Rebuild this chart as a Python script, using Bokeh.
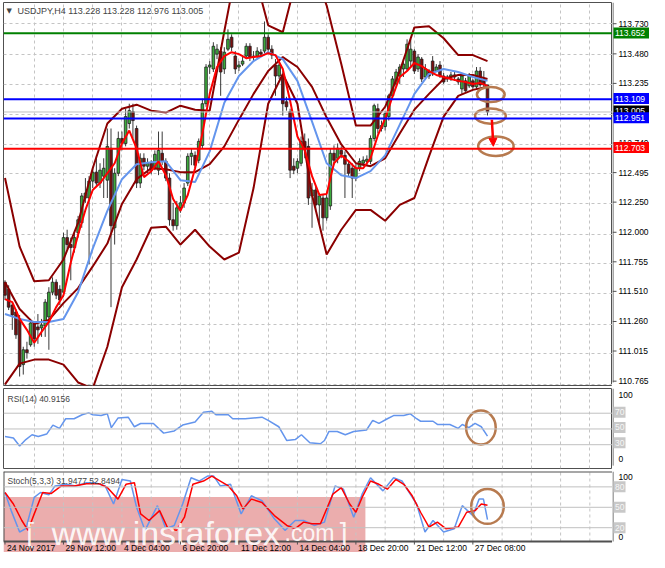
from bokeh.plotting import figure
from bokeh.models import (Range1d, Span, Label, FixedTicker, Arrow, NormalHead,
                          BoxAnnotation, ColumnDataSource)
from bokeh.layouts import column, row
from bokeh.embed import file_html
from bokeh.resources import INLINE
from bokeh.core.properties import value

# ---------------- data (USDJPY H4) ----------------
opens = [111.604, 111.546, 111.416, 111.359, 111.302, 110.926, 111.048, 111.089, 111.261, 111.236,
         111.228, 111.244, 111.318, 111.522, 111.604, 111.546, 111.522, 111.971, 111.914, 111.889,
         112.012, 112.093, 112.297, 112.297, 112.436, 112.510, 112.420, 112.477, 112.444, 112.706,
         112.052, 112.501, 112.787, 112.746, 112.910, 113.008, 112.869, 112.420, 112.624, 112.559,
         112.583, 112.542, 112.526, 112.665, 112.599, 112.461, 112.118, 112.069, 112.216, 112.257,
         112.420, 112.640, 112.648, 112.608, 112.730, 113.073, 113.375, 113.359, 113.481, 113.506,
         113.359, 113.522, 113.620, 113.465, 113.375, 113.399, 113.465, 113.546, 113.457, 113.465,
         113.497, 113.506, 113.620, 113.522, 113.391, 113.301, 113.301, 113.089, 113.008, 112.559,
         112.542, 112.583, 112.763, 112.722, 112.314, 112.363, 112.240, 112.297, 112.134, 112.232,
         112.665, 112.624, 112.689, 112.648, 112.575, 112.542, 112.461, 112.542, 112.583, 112.599,
         112.599, 112.787, 113.032, 112.869, 112.885, 112.967, 113.138, 113.236, 113.301, 113.359,
         113.359, 113.424, 113.506, 113.359, 113.440, 113.293, 113.342, 113.424, 113.342, 113.391,
         113.301, 113.277, 113.293, 113.310, 113.277, 113.195, 113.261, 113.220, 113.261, 113.212,
         113.342, 113.277, 113.228]
highs = [111.620, 111.579, 111.440, 111.383, 111.334, 111.073, 111.114, 111.302, 111.285, 111.342,
         111.302, 111.465, 111.563, 111.644, 111.628, 111.579, 112.012, 112.036, 111.971, 112.012,
         112.150, 112.338, 112.461, 112.477, 112.542, 112.648, 112.583, 112.624, 112.869, 112.869,
         112.542, 112.844, 112.844, 113.032, 113.073, 113.073, 112.893, 112.665, 112.665, 112.624,
         112.608, 112.689, 112.844, 112.844, 112.624, 112.501, 112.257, 112.273, 112.314, 112.420,
         112.665, 112.706, 112.681, 112.787, 113.114, 113.399, 113.424, 113.579, 113.563, 113.538,
         113.538, 113.685, 113.644, 113.506, 113.424, 113.457, 113.571, 113.571, 113.506, 113.538,
         113.522, 113.750, 113.644, 113.554, 113.440, 113.424, 113.342, 113.130, 113.032, 112.624,
         112.624, 112.803, 112.828, 112.787, 112.420, 112.395, 112.338, 112.322, 112.322, 112.706,
         112.730, 112.746, 112.722, 112.681, 112.608, 112.583, 112.575, 112.624, 112.640, 112.648,
         112.812, 113.073, 113.073, 112.934, 113.016, 113.154, 113.301, 113.359, 113.399, 113.440,
         113.603, 113.603, 113.522, 113.481, 113.457, 113.399, 113.359, 113.465, 113.399, 113.424,
         113.326, 113.310, 113.334, 113.334, 113.293, 113.318, 113.285, 113.326, 113.277, 113.375,
         113.375, 113.342, 113.228]
lows = [111.457, 111.375, 111.212, 111.138, 110.828, 110.844, 110.975, 111.073, 111.073, 111.097,
        111.154, 111.154, 111.048, 111.497, 111.465, 111.416, 111.481, 111.873, 111.620, 111.848,
        111.971, 112.052, 112.257, 111.750, 112.379, 112.395, 112.379, 112.297, 112.297, 111.399,
        111.914, 112.477, 112.689, 112.722, 112.869, 112.787, 112.379, 112.379, 112.526, 112.501,
        112.493, 112.526, 112.485, 112.567, 112.436, 112.069, 112.028, 112.036, 112.175, 112.216,
        112.395, 112.567, 112.542, 112.583, 112.706, 113.048, 113.318, 113.334, 113.440, 113.138,
        113.318, 113.506, 113.506, 113.318, 113.342, 113.383, 113.440, 113.424, 113.424, 113.440,
        113.457, 113.489, 113.497, 113.440, 113.138, 113.277, 112.975, 113.016, 112.461, 112.493,
        112.501, 112.559, 112.624, 112.240, 112.052, 112.191, 112.077, 112.028, 112.110, 112.199,
        112.567, 112.583, 112.624, 112.297, 112.477, 112.297, 112.436, 112.518, 112.559, 112.567,
        112.575, 112.763, 112.828, 112.844, 112.852, 112.934, 113.114, 113.212, 113.236, 113.293,
        113.342, 113.383, 113.318, 113.334, 113.252, 113.277, 113.277, 113.301, 113.334, 113.285,
        113.236, 113.252, 113.261, 113.261, 113.228, 113.154, 113.171, 113.203, 113.195, 113.195,
        113.212, 113.212, 112.976]
closes = [111.497, 111.399, 111.334, 111.171, 110.910, 111.048, 111.024, 111.269, 111.138, 111.212,
          111.252, 111.440, 111.522, 111.604, 111.497, 111.457, 111.971, 111.914, 111.889, 111.971,
          112.118, 112.314, 112.338, 112.436, 112.510, 112.420, 112.526, 112.542, 112.722, 112.069,
          112.501, 112.787, 112.746, 112.967, 113.016, 112.934, 112.420, 112.624, 112.559, 112.583,
          112.526, 112.657, 112.689, 112.599, 112.461, 112.118, 112.069, 112.216, 112.257, 112.379,
          112.640, 112.665, 112.567, 112.763, 113.073, 113.375, 113.391, 113.546, 113.522, 113.334,
          113.497, 113.603, 113.538, 113.359, 113.391, 113.424, 113.546, 113.457, 113.465, 113.506,
          113.481, 113.620, 113.522, 113.473, 113.301, 113.391, 113.073, 113.048, 112.526, 112.526,
          112.599, 112.763, 112.706, 112.297, 112.363, 112.240, 112.314, 112.134, 112.297, 112.665,
          112.608, 112.706, 112.657, 112.575, 112.501, 112.461, 112.542, 112.599, 112.608, 112.616,
          112.787, 113.057, 112.869, 112.893, 112.991, 113.138, 113.277, 113.334, 113.375, 113.399,
          113.563, 113.522, 113.342, 113.457, 113.277, 113.359, 113.301, 113.318, 113.375, 113.301,
          113.252, 113.293, 113.310, 113.293, 113.252, 113.301, 113.179, 113.301, 113.212, 113.342,
          113.228, 113.228, 113.005]

# indicator lines read every 4 bars
band_idx = list(range(0, 133, 4))
bb_upper = [112.461, 111.897, 111.612, 111.620, 111.791, 112.093, 112.542, 112.910, 113.032, 113.065,
            113.016, 113.000, 113.057, 113.024, 113.016, 113.669, 114.297, 114.175, 113.718, 113.661,
            114.134, 114.216, 113.881, 113.399, 112.893, 112.893, 113.048, 113.342, 113.701, 113.710,
            113.612, 113.473, 113.473, 113.424]
bb_lower = [110.763, 110.934, 110.967, 110.967, 110.926, 110.779, 110.730, 111.073, 111.563, 111.791,
            112.052, 112.061, 111.914, 112.036, 111.897, 111.791, 111.848, 112.379, 113.073, 113.318,
            113.073, 112.322, 111.832, 112.036, 112.199, 112.199, 112.110, 112.240, 112.297, 112.640,
            112.967, 113.138, 113.187, 113.212]
bb_middle = [111.604, 111.383, 111.261, 111.293, 111.432, 111.555, 111.734, 111.922, 112.248, 112.452,
             112.542, 112.534, 112.510, 112.510, 112.575, 112.722, 112.942, 113.154, 113.342, 113.457,
             113.375, 113.212, 112.959, 112.738, 112.583, 112.559, 112.624, 112.828, 113.024, 113.154,
             113.277, 113.310, 113.310, 113.277]
ma_slow = [111.342, 111.302, 111.277, 111.277, 111.302, 111.522, 111.881, 112.191, 112.452, 112.575,
           112.591, 112.599, 112.444, 112.428, 112.681, 113.081, 113.301, 113.424, 113.497, 113.440,
           113.261, 112.926, 112.583, 112.485, 112.461, 112.518, 112.648, 112.901, 113.154, 113.318,
           113.359, 113.334, 113.293, 113.261]
# fast MA read every 2 bars
fast_idx = list(range(0, 133, 2))
ma_fast = [111.465, 111.440, 111.302, 111.212, 111.106, 111.195, 111.277, 111.399, 111.497, 111.767,
           111.995, 112.199, 112.363, 112.420, 112.501, 112.583, 112.746, 112.852, 112.706, 112.469,
           112.518, 112.599, 112.485, 112.289, 112.191, 112.322, 112.542, 112.828, 113.154, 113.375,
           113.465, 113.497, 113.481, 113.448, 113.457, 113.465, 113.489, 113.473, 113.359, 113.097,
           112.803, 112.689, 112.477, 112.322, 112.330, 112.583, 112.648, 112.599, 112.542, 112.542,
           112.624, 112.812, 112.950, 113.130, 113.293, 113.342, 113.408, 113.383, 113.342, 113.310,
           113.293, 113.277, 113.261, 113.252, 113.236, 113.244, 113.220]

rsi_idx = [0, 2.3, 4, 5.7, 7.4, 9.1, 11.4, 13.1, 14.9, 16.6, 18.9, 21.1, 22.9, 24, 26.3, 28, 29.1, 30.9,
           33.7, 35.4, 37.1, 40.6, 43.4, 46.3, 48.6, 52, 54.3, 56.6, 57.7, 61.1, 62.3, 65.7, 70.3, 72,
           74.9, 77.1, 79.4, 81.1, 83.4, 86.3, 87.4, 88.6, 90.9, 93.1, 95.4, 98.9, 100.6, 102.3, 104.6,
           106.3, 109.1, 110.9, 112.6, 113.7, 117.1, 118.3, 121.7, 124, 125.1, 126.9, 128.6, 130.3, 132]
rsi_val = [40.5, 38.6, 28.3, 36.5, 42.6, 40.5, 43.5, 54.9, 50.8, 63, 63, 68, 70.4, 68, 67, 69.2, 51.6, 63.8,
           65, 52.8, 56.9, 57, 44.7, 47.5, 54.9, 58.9, 71.1, 72.4, 68, 68, 63, 63, 65, 61,
           52.8, 35.3, 36.5, 42.6, 32.4, 31.2, 35.3, 46.7, 46.7, 42.6, 46.7, 48.7, 61, 57, 63,
           67, 67, 69.2, 63, 59.8, 59.8, 55.7, 55.7, 50.8, 55.7, 51.6, 57, 52.8, 40.9156]

stoch_main_idx = [0, 1.7, 4.0, 5.7, 8.0, 9.7, 12.0, 13.7, 16.6, 19.4, 22.3, 24.6, 27.4, 29.7, 32.0, 34.3,
                  36.0, 38.3, 41.7, 44.0, 46.3, 48.6, 50.9, 53.1, 55.4, 57.1, 58.9, 61.7, 64.6, 67.4,
                  70.3, 73.7, 76.6, 79.4, 81.7, 84.6, 87.4, 90.3, 92.6, 95.4, 97.7, 100.0, 103.4, 106.3,
                  108.6, 112.6, 114.9, 117.1, 120.0, 122.9, 125.1, 128.0, 129.7, 130.9, 132]
stoch_main = [71.7, 45.1, 13.7, 18.5, 64.5, 71.7, 68.3, 81.4, 83.8, 81.4, 86.2, 86.2, 81.4, 54.8, 91, 88.6,
              50, 16.1, 52.4, 18.5, 23.3, 54.8, 93.4, 88.6, 95.9, 95.9, 81.4, 83.8, 40.3, 66.9,
              59.6, 33, 16.1, 30.6, 30.6, 23.3, 28.2, 81.4, 76.6, 35.4, 69.3, 93.4, 74.1, 93.4,
              88.6, 54.8, 13.7, 30.6, 13.7, 18.5, 52.4, 37.8, 62, 62, 31.9477]
stoch_sig_idx = [0, 2.3, 4.6, 6.3, 8.0, 10.3, 12.6, 15.4, 18.9, 22.3, 25.7, 28.0, 30.9, 33.1, 35.4, 37.1,
                 39.4, 42.3, 44.6, 46.9, 49.1, 51.4, 54.3, 56.6, 58.9, 61.1, 63.4, 65.1, 67.4, 70.3,
                 73.7, 77.1, 79.4, 81.7, 84.0, 86.3, 89.7, 92.0, 94.3, 96.0, 97.7, 100.0, 102.3, 104.6,
                 106.9, 109.1, 111.4, 113.7, 116.0, 118.3, 120.6, 124.0, 126.3, 128.6, 130.3, 132]
stoch_sig = [71.7, 54.8, 30.6, 16.1, 40.3, 71.7, 70.2, 81.4, 81.4, 84.7, 84.7, 79, 62, 83.8, 86.2, 40.3,
             30.6, 45.1, 18.5, 16.1, 35.4, 83.8, 88.6, 95.9, 88.6, 81.4, 66.9, 47.6, 62, 57.1,
             37.8, 23.3, 18.5, 28.2, 25.8, 25.8, 69.3, 79, 54.8, 42.7, 64.5, 88.6, 83.8, 76.6,
             91, 83.8, 66.9, 42.7, 21, 28.2, 18.5, 21, 42.7, 45.1, 54.8, 52.8494]

price_ticks = [110.765, 111.015, 111.260, 111.510, 111.755, 112.000, 112.250, 112.495, 112.740,
               112.985, 113.235, 113.480, 113.730]
level_green = 113.652
level_blue = [113.109, 112.951]
level_red = 112.703
last_price = 113.005
rsi_levels = [70, 50, 30]
stoch_levels = [80, 50, 20]
date_idx = [0, 16, 32, 48, 64, 80, 96, 112, 128]
date_labels = ["24 Nov 2017", "29 Nov 12:00", "4 Dec 04:00", "6 Dec 20:00", "11 Dec 12:00",
               "14 Dec 04:00", "18 Dec 20:00", "21 Dec 12:00", "27 Dec 08:00"]
vgrid_idx = list(range(8, 168, 8))

# ---------------- layout constants ----------------
X0, X1 = -0.41, 166.2
WL = 612          # chart part (frame 3..612)
WR = 37           # price-scale strip
FONT = "Liberation Sans"
GRID_C = "#c4c4c4"
BORDER_C = "#505050"
xr = Range1d(X0, X1)


def panel(h, yr, bt=0, bb=0):
    p = figure(width=WL, height=h, x_range=xr, y_range=yr, output_backend="svg",
               toolbar_location=None, x_axis_location=None, y_axis_location=None,
               min_border_left=3, min_border_right=0, min_border_top=bt, min_border_bottom=bb)
    p.outline_line_color = BORDER_C
    p.outline_line_width = 1
    p.background_fill_color = "white"
    p.border_fill_color = "white"
    p.xgrid.ticker = FixedTicker(ticks=vgrid_idx)
    p.xgrid.grid_line_color = GRID_C
    p.xgrid.grid_line_dash = "3 3"
    return p


def strip(h, yr, line_lo, line_hi, bt=0, bb=0):
    s = figure(width=WR, height=h, x_range=Range1d(0, WR), y_range=yr, output_backend="svg",
               toolbar_location=None, x_axis_location=None, y_axis_location=None,
               min_border_left=0, min_border_right=0, min_border_top=bt, min_border_bottom=bb)
    s.outline_line_color = None
    s.grid.visible = False
    s.background_fill_color = "white"
    s.border_fill_color = "white"
    s.segment(x0=[0.5], y0=[line_lo], x1=[0.5], y1=[line_hi], line_color=BORDER_C, line_width=1)
    return s


def scale_text(s, ys, texts, color="#000000", x=6):
    s.text(x=[x] * len(ys), y=ys, text=texts, text_font=value(FONT), text_font_size="8.5px",
           text_baseline="middle", text_align="left", text_color=color)


def boxed(s, ys, texts, bg, width=36, color="white"):
    s.rect(x=[1 + width / 2] * len(ys), y=ys, width=width, height=11, height_units="screen",
           fill_color=bg, line_color=None)
    scale_text(s, ys, texts, color=color, x=2.5)


# ---------------- main price panel ----------------
yr_main = Range1d(110.754, 113.906)
pm = panel(388, yr_main, bt=2, bb=3)
pm.ygrid.ticker = FixedTicker(ticks=price_ticks)
pm.ygrid.grid_line_color = GRID_C
pm.ygrid.grid_line_dash = "3 3"

idx = list(range(len(closes)))
bull = [c >= o for o, c in zip(opens, closes)]
src = ColumnDataSource(dict(
    x=idx, h=highs, l=lows,
    top=[max(o, c) for o, c in zip(opens, closes)],
    bot=[min(o, c) for o, c in zip(opens, closes)],
    fill=["#3daa3d" if b else "#7a0f0f" for b in bull]))
pm.segment(x0="x", y0="l", x1="x", y1="h", source=src, line_color="#3a3a3a", line_width=1)
pm.vbar(x="x", width=0.72, top="top", bottom="bot", source=src, fill_color="fill",
        line_color="#202020", line_width=0.8)

pm.line(band_idx, bb_upper, line_color="#8b0000", line_width=2)
pm.line(band_idx, bb_lower, line_color="#8b0000", line_width=2)
pm.line(band_idx, bb_middle, line_color="#8b0000", line_width=2)
pm.line(band_idx, ma_slow, line_color="#6495ed", line_width=2)
pm.line(fast_idx, ma_fast, line_color="#ff0000", line_width=2)

pm.add_layout(Span(location=last_price, dimension="width", line_color="#c0c0c0", line_width=1))
pm.add_layout(Span(location=level_green, dimension="width", line_color="#008000", line_width=2))
for lv in level_blue:
    pm.add_layout(Span(location=lv, dimension="width", line_color="#0000ff", line_width=2))
pm.add_layout(Span(location=level_red, dimension="width", line_color="#ff0000", line_width=2))

pm.ellipse(x=[132.9, 132.8, 134.3],
           y=[level_blue[0] + 0.04, level_blue[1] + 0.02, level_red + 0.02],
           width=[7.6, 8.4, 9.7], height=[0.125, 0.125, 0.16],
           fill_color=None, line_color="#b77a4f", line_width=2.5)
pm.add_layout(Arrow(end=NormalHead(size=8, fill_color="#ff0000", line_color="#ff0000"),
                    x_start=133.2, y_start=level_blue[1] - 0.01, x_end=133.6,
                    y_end=level_red + 0.02, line_color="#ff0000", line_width=2.5))

pm.add_layout(Label(x=X0, y=113.906, x_offset=3, y_offset=-8, text="\u25bc",
                    text_font="DejaVu Sans", text_font_size="7px", text_baseline="middle"))
pm.add_layout(Label(x=X0, y=113.906, x_offset=14, y_offset=-8,
                    text="USDJPY,H4  113.228 113.228 112.976 113.005",
                    text_font=FONT, text_font_size="9px", text_baseline="middle"))

sm = strip(388, Range1d(110.729, 113.906), 110.754, 113.906, bt=2, bb=0)
sm.segment(x0=[0] * len(price_ticks), y0=price_ticks, x1=[4] * len(price_ticks), y1=price_ticks,
           line_color=BORDER_C, line_width=1)
scale_text(sm, price_ticks, [f"{t:.3f}" for t in price_ticks])
boxed(sm, [level_green], [f"{level_green:.3f}"], "#008000")
boxed(sm, [level_blue[0]], [f"{level_blue[0]:.3f}"], "#0000ff")
boxed(sm, [last_price], [f"{last_price:.3f}"], "#000000")
boxed(sm, [level_blue[1]], [f"{level_blue[1]:.3f}"], "#0000ff")
boxed(sm, [level_red], [f"{level_red:.3f}"], "#ff0000")

# ---------------- RSI panel ----------------
pr = panel(83, Range1d(-0.24, 101.4), bt=0, bb=3)
pr.ygrid.visible = False
for lv in rsi_levels:
    pr.add_layout(Span(location=lv, dimension="width", line_color="#c0c0c0", line_width=1))
pr.line(rsi_idx, rsi_val, line_color="#6495ed", line_width=1.5)
pr.ellipse(x=[130.2], y=[51.8], width=[8.1], height=[43], fill_color=None,
           line_color="#b77a4f", line_width=2.5)
pr.add_layout(Label(x=X0, y=101.4, x_offset=4, y_offset=-10, text="RSI(14) 40.9156",
                    text_font=FONT, text_font_size="8.5px", text_baseline="middle"))

sr = strip(83, Range1d(-4.05, 101.4), -0.24, 101.4)
scale_text(sr, [92.8, 8.3], ["100", "0"])
boxed(sr, rsi_levels, [str(v) for v in rsi_levels], "#c8c8c8", width=12, color="#f6f6f6")

# ---------------- Stochastic panel (frame also holds the date row) ----------------
ST_LO, ST_HI = -0.3, 102.6
yr_st = Range1d(-16.47, ST_HI)
ps = figure(width=WL, height=81, x_range=xr, y_range=yr_st, output_backend="svg",
            toolbar_location=None, x_axis_location=None, y_axis_location=None,
            min_border_left=3, min_border_right=0, min_border_top=0, min_border_bottom=0)
ps.outline_line_color = None
ps.grid.visible = False
ps.background_fill_color = "white"
ps.border_fill_color = "white"
ps.segment(x0=vgrid_idx, y0=ST_LO, x1=vgrid_idx, y1=ST_HI, line_color=GRID_C, line_width=1,
           line_dash="3 3")
for lv in stoch_levels:
    ps.add_layout(Span(location=lv, dimension="width", line_color="#c0c0c0", line_width=1))
ps.line(stoch_main_idx, stoch_main, line_color="#6495ed", line_width=1.5)
ps.line(stoch_sig_idx, stoch_sig, line_color="#ff0000", line_width=1.5)
ps.ellipse(x=[132.0], y=[51.2], width=[8.9], height=[51], fill_color=None,
           line_color="#b77a4f", line_width=2.5)
ps.add_layout(Label(x=X0, y=ST_HI, x_offset=4, y_offset=-9, text="Stoch(5,3,3) 31.9477 52.8494",
                    text_font=FONT, text_font_size="8.5px", text_baseline="middle"))
ps.segment(x0=[X0, X0, X0], y0=[ST_LO, ST_HI, ST_LO], x1=[X1, X1, X0], y1=[ST_LO, ST_HI, ST_HI],
           line_color=BORDER_C, line_width=2)

# watermark (box + text)
ps.add_layout(BoxAnnotation(left=X0, right=98.6, top=65, fill_color="#d24a4a", fill_alpha=0.45,
                            line_color=None, level="underlay"))
WM_Y = 12.9
ps.text(x=[5.8, 12.7, 76.5, 91.6], y=[WM_Y] * 4, text=["[", "www.instaforex", ".com", "]"],
        text_font=value(FONT), text_font_size=["28px", "34px", "23px", "28px"],
        text_color="white", text_alpha=0.9, text_baseline="alphabetic", text_align="left")

# date ticks and labels
ps.segment(x0=date_idx, y0=ST_LO, x1=date_idx, y1=-4.8, line_color=BORDER_C, line_width=1)
ps.text(x=date_idx, y=[-9.6] * len(date_idx), text=date_labels, text_font=value(FONT),
        text_font_size="8.5px", text_baseline="middle", text_align="left", x_offset=2,
        text_color="#000000")

ss = strip(81, yr_st, ST_LO, ST_HI)
scale_text(ss, [93.9, 7], ["100", "0"])
boxed(ss, stoch_levels, [str(v) for v in stoch_levels], "#c8c8c8", width=12, color="#f6f6f6")

layout = column(row(pm, sm), row(pr, sr), row(ps, ss))
open("out.html", "w").write(file_html(layout, INLINE))
